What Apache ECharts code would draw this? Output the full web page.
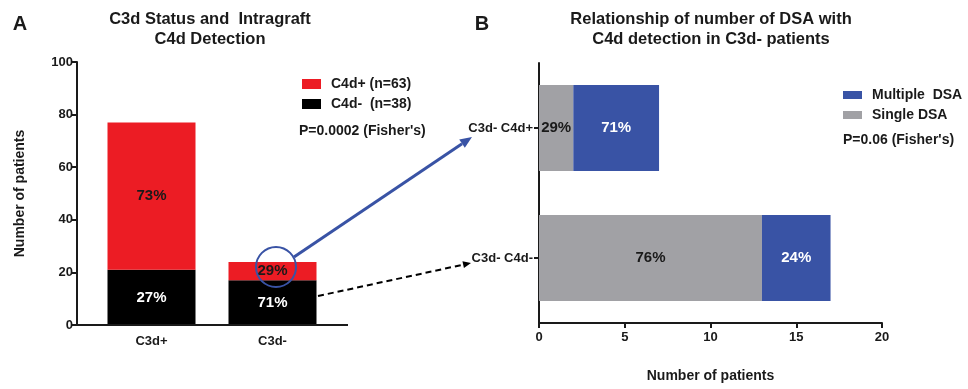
<!DOCTYPE html>
<html>
<head>
<meta charset="utf-8">
<script src="https://cdn.jsdelivr.net/npm/echarts@6/dist/echarts.min.js"></script>
<style>html,body{margin:0;padding:0;background:#fff;}#c{width:968px;height:389px;}</style>
</head>
<body>
<div id="c"></div>
<script>
// ---- Data ----
const categoriesA = ['C3d+', 'C3d-'];
const c4dNeg = [21, 17];
const c4dPos = [56, 7];
const yTicksA = [0, 20, 40, 60, 80, 100];

const categoriesB = ['C3d- C4d+', 'C3d- C4d-'];
const singleDSA = [2, 13];
const multipleDSA = [5, 4];
const xTicksB = [0, 5, 10, 15, 20];

const sum = a => a.reduce((s, v) => s + v, 0);
const nameC4dPos = 'C4d+ (n=' + sum(c4dPos) + ')';
const nameC4dNeg = 'C4d-  (n=' + sum(c4dNeg) + ')';

const RED = '#ec1c24', BLACK = '#000000', BLUE = '#3953a5', GRAY = '#a1a1a5';
const TXT = '#1a1a1a';
const FONT = '"Liberation Sans", Arial, sans-serif';

function pctLabel(a, b) {
  return p => Math.round(p.value / (a[p.dataIndex] + b[p.dataIndex]) * 100) + '%';
}
function lbl(color, a, b) {
  return { show: true, position: 'inside', color: color, fontWeight: 'bold', fontSize: 15, fontFamily: FONT, formatter: pctLabel(a, b) };
}

function arrow(x1, y1, x2, y2, color, dashed, headLen, headW) {
  const dx = x2 - x1, dy = y2 - y1, L = Math.hypot(dx, dy);
  const ux = dx / L, uy = dy / L;
  const bx = x2 - ux * headLen, by = y2 - uy * headLen;
  const px = -uy * headW / 2, py = ux * headW / 2;
  return [
    { type: 'line', z: 100, shape: { x1: x1, y1: y1, x2: bx, y2: by },
      style: { stroke: color, lineWidth: dashed ? 2 : 3, lineDash: dashed ? [6, 4] : null } },
    { type: 'polygon', z: 100, shape: { points: [[x2, y2], [bx + px, by + py], [bx - px, by - py]] },
      style: { fill: color } }
  ];
}

const axisLineStyle = { color: TXT, width: 2 };
const tickFont = { color: TXT, fontWeight: 'bold', fontSize: 13, fontFamily: FONT };
const nameFont = { color: TXT, fontWeight: 'bold', fontSize: 14, fontFamily: FONT };
const legendFont = { color: TXT, fontWeight: 'bold', fontSize: 14, fontFamily: FONT, padding: [0, 0, 0, 5] };

const chart = echarts.init(document.getElementById('c'));
chart.setOption({
  animation: false,
  textStyle: { fontFamily: FONT },
  grid: [
    { left: 91, top: 62, width: 242, height: 263 },
    { left: 539, top: 63, width: 343, height: 260 }
  ],
  legend: [
    { data: [nameC4dPos, nameC4dNeg], orient: 'vertical', left: 297, top: 72, itemWidth: 19, itemHeight: 10, itemGap: 6, icon: 'rect',
      textStyle: legendFont, selectedMode: false },
    { data: ['Multiple  DSA', 'Single DSA'], orient: 'vertical', left: 838, top: 83, itemWidth: 19, itemHeight: 8, itemGap: 6, icon: 'rect',
      textStyle: legendFont, selectedMode: false }
  ],
  xAxis: [
    { gridIndex: 0, type: 'category', data: categoriesA, axisLine: { show: false }, axisTick: { show: false },
      axisLabel: Object.assign({ margin: 10 }, tickFont) },
    { gridIndex: 1, type: 'value', min: xTicksB[0], max: xTicksB[xTicksB.length - 1], interval: 5,
      axisLine: { show: true, lineStyle: axisLineStyle }, axisTick: { show: true, length: 5, lineStyle: axisLineStyle },
      splitLine: { show: false }, axisLabel: Object.assign({ margin: 8 }, tickFont),
      name: 'Number of patients', nameLocation: 'middle', nameGap: 46, nameTextStyle: nameFont }
  ],
  yAxis: [
    { gridIndex: 0, type: 'value', min: yTicksA[0], max: yTicksA[yTicksA.length - 1], interval: 20, offset: 14,
      axisLine: { show: true, lineStyle: axisLineStyle }, axisTick: { show: true, length: 5, lineStyle: axisLineStyle },
      splitLine: { show: false }, axisLabel: Object.assign({ margin: 4 }, tickFont),
      name: 'Number of patients', nameLocation: 'middle', nameGap: 50, nameRotate: 90, nameTextStyle: nameFont },
    { gridIndex: 1, type: 'category', data: categoriesB, inverse: true,
      axisLine: { show: true, lineStyle: axisLineStyle }, axisTick: { show: true, alignWithLabel: true, length: 5, lineStyle: axisLineStyle },
      axisLabel: Object.assign({ margin: 6 }, tickFont) }
  ],
  series: [
    { name: nameC4dNeg, type: 'bar', stack: 'a', xAxisIndex: 0, yAxisIndex: 0, data: c4dNeg, barWidth: 88,
      itemStyle: { color: BLACK }, label: lbl('#ffffff', c4dNeg, c4dPos) },
    { name: nameC4dPos, type: 'bar', stack: 'a', xAxisIndex: 0, yAxisIndex: 0, data: c4dPos, barWidth: 88,
      itemStyle: { color: RED }, label: lbl('#1a1a1a', c4dPos, c4dNeg) },
    { name: 'Single DSA', type: 'bar', stack: 'b', xAxisIndex: 1, yAxisIndex: 1, data: singleDSA, barWidth: 86,
      itemStyle: { color: GRAY }, label: lbl('#1a1a1a', singleDSA, multipleDSA) },
    { name: 'Multiple  DSA', type: 'bar', stack: 'b', xAxisIndex: 1, yAxisIndex: 1, data: multipleDSA, barWidth: 86,
      itemStyle: { color: BLUE }, label: lbl('#ffffff', multipleDSA, singleDSA) }
  ],
  graphic: [
    { type: 'line', z: 100, shape: { x1: 77, y1: 325, x2: 348, y2: 325 }, style: { stroke: TXT, lineWidth: 2 } },
    { type: 'text', z: 100, style: { text: 'A', x: 20, y: 24, textAlign: 'center', textVerticalAlign: 'middle', font: 'bold 20px ' + FONT, fill: TXT } },
    { type: 'text', z: 100, style: { text: 'B', x: 482, y: 24, textAlign: 'center', textVerticalAlign: 'middle', font: 'bold 20px ' + FONT, fill: TXT } },
    { type: 'text', z: 100, style: { text: 'C3d Status and  Intragraft\nC4d Detection', x: 210, y: 9, textAlign: 'center', textVerticalAlign: 'top', lineHeight: 20, font: 'bold 16.5px ' + FONT, fill: TXT } },
    { type: 'text', z: 100, style: { text: 'Relationship of number of DSA with\nC4d detection in C3d- patients', x: 711, y: 9, textAlign: 'center', textVerticalAlign: 'top', lineHeight: 20, font: 'bold 16.5px ' + FONT, fill: TXT } },
    { type: 'text', z: 100, style: { text: "P=0.0002 (Fisher's)", x: 299, y: 131, textVerticalAlign: 'middle', font: 'bold 14px ' + FONT, fill: TXT } },
    { type: 'text', z: 100, style: { text: "P=0.06 (Fisher's)", x: 843, y: 140, textVerticalAlign: 'middle', font: 'bold 14px ' + FONT, fill: TXT } },
    { type: 'circle', z: 100, shape: { cx: 276, cy: 267, r: 20 }, style: { stroke: BLUE, fill: null, lineWidth: 2 } },
    ...arrow(294, 257, 472, 137, BLUE, false, 12, 10),
    ...arrow(318, 296, 471, 263, BLACK, true, 8, 7)
  ]
});
</script>
</body>
</html>
